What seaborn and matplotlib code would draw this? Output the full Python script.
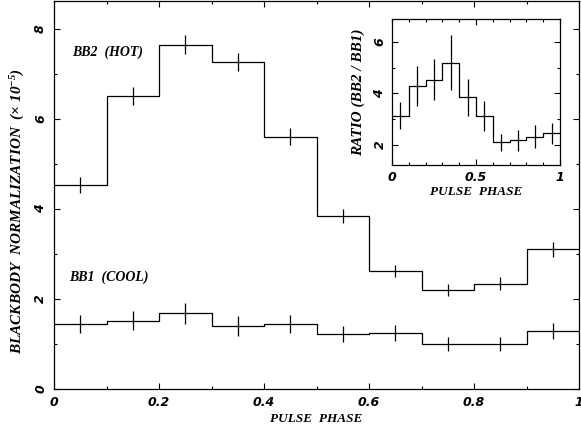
import numpy as np
import matplotlib
matplotlib.use("Agg")
import matplotlib.pyplot as plt
from matplotlib.font_manager import FontProperties
import seaborn as sns

# pulse phase bins (10 bins between 0 and 1)
phase_edges = [0.0, 0.1, 0.2, 0.3, 0.4, 0.5, 0.6, 0.7, 0.8, 0.9, 1.0]
phase_mid = [0.05, 0.15, 0.25, 0.35, 0.45, 0.55, 0.65, 0.75, 0.85, 0.95]

# blackbody normalizations (x 1e-5)
bb2_hot = [4.53, 6.52, 7.65, 7.26, 5.60, 3.84, 2.62, 2.20, 2.34, 3.10]
bb2_err = [0.18, 0.20, 0.21, 0.20, 0.19, 0.15, 0.14, 0.14, 0.15, 0.16]
bb1_cool = [1.44, 1.52, 1.68, 1.40, 1.45, 1.23, 1.25, 1.00, 1.00, 1.28]
bb1_err = [0.20, 0.21, 0.23, 0.22, 0.20, 0.18, 0.18, 0.16, 0.16, 0.18]

# ratio BB2 / BB1
ratio = [3.13, 4.29, 4.53, 5.19, 3.84, 3.10, 2.08, 2.17, 2.31, 2.43]
ratio_err = [0.52, 0.78, 0.81, 1.07, 0.71, 0.58, 0.33, 0.41, 0.44, 0.40]

sns.set_style("ticks")
plt.rcParams["mathtext.default"] = "regular"
plt.rcParams["text.color"] = "black"
plt.rcParams["axes.labelcolor"] = "black"
plt.rcParams["xtick.color"] = "black"
plt.rcParams["ytick.color"] = "black"

label_font = dict(family="Liberation Serif", style="italic", weight="bold", size=9.5)
ylabel_font = dict(label_font, size=11)
note_font = dict(label_font, size=10)
tick_font = FontProperties(family="DejaVu Sans", style="italic", weight="bold", size=9)
lw = 0.9


def stairs(ax, values):
    y = list(values) + [values[-1]]
    sns.lineplot(x=phase_edges, y=y, ax=ax, drawstyle="steps-post", color="black",
                 linewidth=lw, estimator=None, sort=False)


def style_axes(ax, xmajor, ymajor, xminor, yminor, xlabels):
    ax.set_xticks(np.arange(0, 1.0001, xmajor))
    ax.set_xticks(np.arange(0, 1.0001, xminor), minor=True)
    lo, hi = ax.get_ylim()
    ax.set_yticks(np.arange(0, hi + 0.001, ymajor))
    ax.set_yticks(np.arange(0, hi + 0.001, yminor), minor=True)
    ax.set_ylim(lo, hi)
    ax.set_xticklabels(xlabels)
    ax.tick_params(which="both", direction="in", top=True, right=True,
                   color="black", width=0.8)
    ax.tick_params(which="major", length=4.5)
    ax.tick_params(which="minor", length=2.5)
    for s in ax.spines.values():
        s.set_linewidth(0.9)
        s.set_color("black")
    for t in ax.get_xticklabels():
        t.set_fontproperties(tick_font)
    for t in ax.get_yticklabels():
        t.set_fontproperties(tick_font)
        t.set_rotation(90)
        t.set_va("center")


fig = plt.figure(figsize=(5.81, 4.25), dpi=100)

# main panel
ax = fig.add_axes([54 / 581, 1 - 389 / 425, 525 / 581, 388 / 425])
stairs(ax, bb2_hot)
stairs(ax, bb1_cool)
ax.errorbar(phase_mid, bb2_hot, yerr=bb2_err, fmt="none", ecolor="black",
            elinewidth=lw, capsize=0)
ax.errorbar(phase_mid, bb1_cool, yerr=bb1_err, fmt="none", ecolor="black",
            elinewidth=lw, capsize=0)
ax.set_xlim(0, 1)
ax.set_ylim(0, 8.62)
style_axes(ax, 0.2, 2, 0.1, 1, ["0", "0.2", "0.4", "0.6", "0.8", "1"])
ax.tick_params(axis="y", pad=5)
ax.tick_params(axis="x", pad=5)
ax.set_xlabel("PULSE  PHASE", fontdict=label_font, labelpad=3)
ax.set_ylabel(r"BLACKBODY  NORMALIZATION  (× 10$^{-5}$)", fontdict=ylabel_font)
ax.yaxis.set_label_coords(-0.052, 0.46)
ax.text(0.035, 7.49, "BB2  (HOT)", fontdict=note_font, va="center")
ax.text(0.029, 2.49, "BB1  (COOL)", fontdict=note_font, va="center")

# inset: ratio
axi = fig.add_axes([392 / 581, 1 - 165 / 425, 168 / 581, 146 / 425])
stairs(axi, ratio)
axi.errorbar(phase_mid, ratio, yerr=ratio_err, fmt="none", ecolor="black",
             elinewidth=lw, capsize=0)
axi.set_xlim(0, 1)
axi.set_ylim(1.2, 6.9)
style_axes(axi, 0.5, 2, 0.1, 1, ["0", "0.5", "1"])
axi.tick_params(axis="y", pad=4)
axi.tick_params(axis="x", pad=4)
axi.set_xlabel("PULSE  PHASE", fontdict=label_font, labelpad=2)
axi.set_ylabel("RATIO (BB2 / BB1)", fontdict=ylabel_font, labelpad=6)

fig.savefig("out.png", dpi=100)
plt.close(fig)
